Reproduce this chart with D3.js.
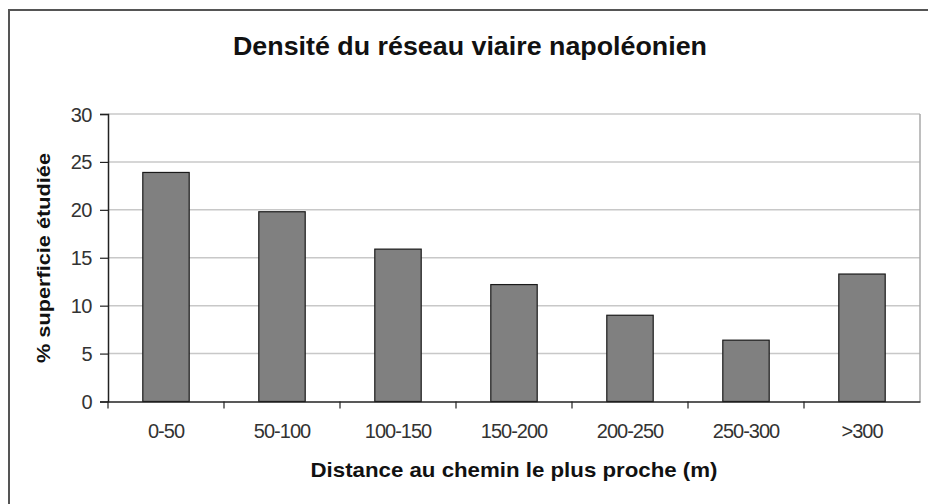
<!DOCTYPE html>
<html><head><meta charset="utf-8">
<script src="https://cdn.jsdelivr.net/npm/d3@7"></script>
<style>body{margin:0;background:#fff}svg{display:block}text{font-family:"Liberation Sans",Arial,sans-serif}</style>
</head><body>
<svg id="c" width="928" height="504"></svg>
<script>
const categories = ["0-50","50-100","100-150","150-200","200-250","250-300",">300"];
const values = [23.9, 19.8, 15.9, 12.2, 9.0, 6.4, 13.3];
const yTicks = [0,5,10,15,20,25,30];
const title = "Densité du réseau viaire napoléonien";
const xTitle = "Distance au chemin le plus proche (m)";
const yTitle = "% superficie étudiée";

const svg = d3.select("#c");
const L = 108, R = 920, T = 114, B = 401.5;

svg.append("rect").attr("x",9).attr("y",10).attr("width",940).attr("height",520)
  .attr("fill","#fff").attr("stroke","#555").attr("stroke-width",2);

const x = d3.scaleBand().domain(categories).range([L,R]).paddingInner(0.6).paddingOuter(0.3);
const y = d3.scaleLinear().domain([0,30]).range([B,T]);

svg.append("g").selectAll("line").data(yTicks.filter(d=>d>0)).join("line")
  .attr("x1",L).attr("x2",R).attr("y1",d=>y(d)).attr("y2",d=>y(d))
  .attr("stroke","#c8c8c8").attr("stroke-width",1.5);
svg.append("line").attr("x1",R).attr("x2",R).attr("y1",T).attr("y2",B)
  .attr("stroke","#a8a8a8").attr("stroke-width",1.5);

svg.append("g").selectAll("rect").data(values).join("rect")
  .attr("x",(d,i)=>x(categories[i])).attr("width",x.bandwidth())
  .attr("y",d=>y(d)).attr("height",d=>B-y(d))
  .attr("fill","#808080").attr("stroke","#1a1a1a").attr("stroke-width",1.2);

const ya = svg.append("g").attr("transform",`translate(${L},0)`)
  .call(d3.axisLeft(y).tickValues(yTicks).tickSize(8).tickPadding(8));
ya.select(".domain").attr("stroke","#222").attr("stroke-width",1.5);
ya.selectAll(".tick line").attr("stroke","#222").attr("stroke-width",1.2);
ya.selectAll(".tick text").attr("font-size",20).attr("fill","#333").attr("dy","0.35em")
  .style("letter-spacing","-0.5px");

const xa = svg.append("g").attr("transform",`translate(0,${B})`)
  .call(d3.axisBottom(x).tickSize(0).tickPadding(22));
xa.select(".domain").attr("stroke","#222").attr("stroke-width",1.5);
xa.selectAll(".tick text").attr("font-size",20).attr("fill","#333")
  .style("letter-spacing","-1px");
const bounds = d3.range(categories.length+1).map(i=>L + i*(R-L)/categories.length);
svg.append("g").selectAll("line").data(bounds.slice(0,-1)).join("line")
  .attr("x1",d=>d).attr("x2",d=>d).attr("y1",B).attr("y2",B+7)
  .attr("stroke","#222").attr("stroke-width",1.2);

svg.append("text").attr("x",470).attr("y",55).attr("text-anchor","middle")
  .attr("font-size",26).attr("font-weight","bold").attr("fill","#111")
  .attr("textLength",474).attr("lengthAdjust","spacingAndGlyphs").text(title);
svg.append("text").attr("x",514).attr("y",477).attr("text-anchor","middle")
  .attr("font-size",21).attr("font-weight","bold").attr("fill","#111")
  .attr("textLength",407).attr("lengthAdjust","spacingAndGlyphs").text(xTitle);
svg.append("text").attr("transform","translate(50,258) rotate(-90)").attr("text-anchor","middle")
  .attr("font-size",19).attr("font-weight","bold").attr("fill","#111")
  .attr("textLength",210).attr("lengthAdjust","spacingAndGlyphs").text(yTitle);
</script>
</body></html>
